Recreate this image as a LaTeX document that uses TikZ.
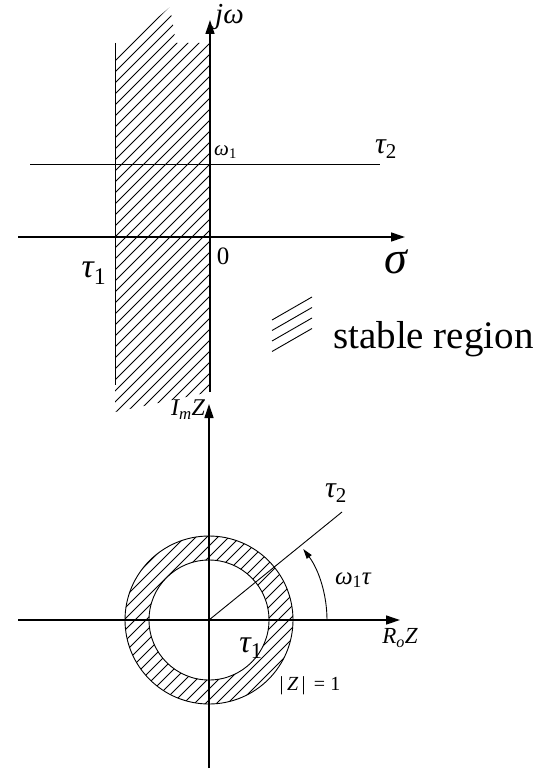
\documentclass[tikz,border=0pt]{standalone}
\usepackage{fontspec}
\setmainfont{Liberation Serif}
\usetikzlibrary{arrows.meta}

\newcommand{\fsz}[1]{\fontsize{#1}{#1}\selectfont}

\begin{document}
\begin{tikzpicture}[x=1pt,y=-1pt,
  axis/.style={line width=1.3pt,-{Triangle[length=14pt,width=9pt]}},
  thinline/.style={line width=0.9pt},
  hatch/.style={line width=0.9pt},
  lbl/.style={inner sep=0pt}]
\useasboundingbox (0,0) rectangle (540,773);

  % s-plane
  \coordinate (sL) at (18,237);
  \coordinate (sR) at (405,237);
  \coordinate (wB) at (210,392);
  \coordinate (wT) at (210,20);
  \coordinate (wL) at (30,164);
  \coordinate (wR) at (380,164);
  \coordinate (eT) at (115,43);
  \coordinate (eB) at (115,385);

  % hatched strip
  \begin{scope}
    \clip (115,54) -- (170,7) -- (176,43) -- (210,43) -- (210,392) -- (115,412) -- cycle;
    \foreach \c in {121,132,...,640}
      \draw[hatch] ({\c-420},420) -- (\c,0);
  \end{scope}
  \draw[thinline] (eT) -- (eB);
  \draw[thinline] (wL) -- (wR);
  \draw[axis] (sL) -- (sR);
  \draw[axis] (wB) -- (wT);

  \node[lbl,anchor=west] (jw) at (215,17) {\fsz{29}\itshape jω};
  \node[lbl,anchor=west] (w1) at (214,152) {\fsz{21}\itshape ω\textsubscript{\upshape 1}};
  \node[lbl] (t2) at (386,149) {\fsz{30}\itshape τ\textsubscript{\upshape 2}};
  \node[lbl] (zero) at (223,256) {\fsz{25}0};
  \node[lbl] (sigma) at (396,262) {\fsz{46}\itshape σ};
  \node[lbl] (t1) at (94,273) {\fsz{34}\itshape τ\textsubscript{\upshape 1}};

  % legend
  \foreach \i in {0,...,3}
    \draw[hatch] (272,{320+10.5*\i}) -- (312,{297+10.5*\i});
  \node[lbl,anchor=base west] (stable) at (333,348) {\fsz{39}stable region};

  % z-plane
  \coordinate (O) at (209,620);
  \coordinate (xL) at (18,620);
  \coordinate (xR) at (400,620);
  \coordinate (yB) at (209,768);
  \coordinate (yT) at (209,404);
  \coordinate (rE) at (342,512);
  \coordinate (aS) at (327,620);

  \begin{scope}[even odd rule]
    \clip (O) circle (84) (O) circle (60);
    \foreach \c in {700,711,...,960}
      \draw[hatch] ({\c-800},800) -- (\c,0);
  \end{scope}
  \draw[thinline] (O) circle (84);
  \draw[thinline] (O) circle (60);
  \draw[thinline] (O) -- (rE);
  \draw[axis] (xL) -- (xR);
  \draw[axis] (yB) -- (yT);
  \draw[thinline,-{Triangle[length=10pt,width=6pt]}] (aS) arc[start angle=0,end angle=-37,radius=118];

  \node[lbl] (ImZ) at (188,410) {\fsz{24}\itshape I\textsubscript{m}Z};
  \node[lbl] (t2b) at (336,493) {\fsz{30}\itshape τ\textsubscript{\upshape 2}};
  \node[lbl] (wt) at (353,580) {\fsz{25}\itshape ω\textsubscript{\upshape 1}τ};
  \node[lbl] (ReZ) at (400,638) {\fsz{23}\itshape R\textsubscript{o}Z};
  \node[lbl] (t1b) at (251,648) {\fsz{32}\itshape τ\textsubscript{\upshape 1}};
  \node[lbl] (absZ) at (310,686) {\fsz{20}|\,\textit{Z}\,|\, = 1};
\end{tikzpicture}
\end{document}
